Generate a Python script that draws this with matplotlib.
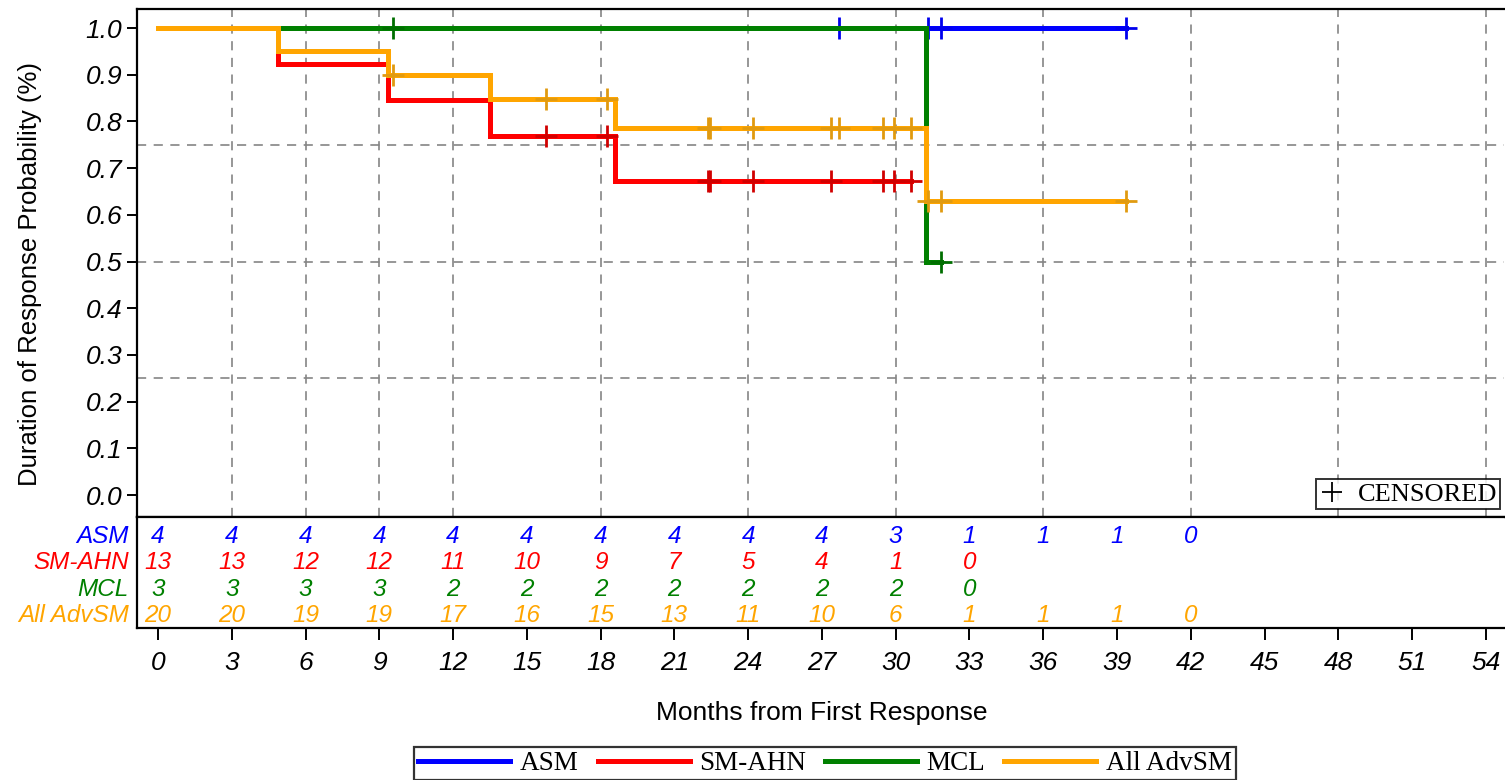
import numpy as np
import matplotlib
matplotlib.use("Agg")
import matplotlib.pyplot as plt
from matplotlib.lines import Line2D

# ---------------- data ----------------
groups = ["ASM", "SM-AHN", "MCL", "All AdvSM"]
colors = ["#0000FF", "#FF0000", "#008000", "#FFA500"]
censor_colors = ["#0000EE", "#D00000", "#006E00", "#E09A10"]

# Kaplan-Meier step functions: event times and survival after each event
asm_event_t = []
asm_event_s = []
asm_end = 39.37
asm_censor = [27.7, 31.3, 31.83, 39.37]

smahn_event_t = [4.9, 9.35, 13.5, 18.6]
smahn_event_s = [0.923, 0.846, 0.769, 0.673]
smahn_end = 30.63
smahn_censor = [15.77, 18.26, 22.35, 22.45, 24.2, 27.35, 29.48, 29.95, 30.63]

mcl_event_t = [31.24]
mcl_event_s = [0.5]
mcl_end = 31.83
mcl_censor = [9.57, 31.83]

all_event_t = [4.9, 9.35, 13.5, 18.6, 31.24]
all_event_s = [0.95, 0.90, 0.847, 0.786, 0.629]
all_end = 39.37
all_censor = [9.57, 15.77, 18.26, 22.35, 22.45, 24.2, 27.35, 27.7, 29.48,
              29.95, 30.63, 31.3, 31.83, 39.37]

# number at risk
risk_times = [0, 3, 6, 9, 12, 15, 18, 21, 24, 27, 30, 33, 36, 39, 42]
asm_risk = [4, 4, 4, 4, 4, 4, 4, 4, 4, 4, 3, 1, 1, 1, 0]
smahn_risk = [13, 13, 12, 12, 11, 10, 9, 7, 5, 4, 1, 0]
mcl_risk = [3, 3, 3, 3, 2, 2, 2, 2, 2, 2, 2, 0]
all_risk = [20, 20, 19, 19, 17, 16, 15, 13, 11, 10, 6, 1, 1, 1, 0]

x_ticks = list(range(0, 55, 3))
y_ticks = [0.0, 0.1, 0.2, 0.3, 0.4, 0.5, 0.6, 0.7, 0.8, 0.9, 1.0]
grid_x = [3, 6, 9, 12, 18, 24, 30, 36, 42, 48, 54]
grid_y = [0.25, 0.5, 0.75]

series = [
    (asm_event_t, asm_event_s, asm_end, asm_censor, asm_risk),
    (smahn_event_t, smahn_event_s, smahn_end, smahn_censor, smahn_risk),
    (mcl_event_t, mcl_event_s, mcl_end, mcl_censor, mcl_risk),
    (all_event_t, all_event_s, all_end, all_censor, all_risk),
]

# ---------------- layout ----------------
W, H = 1505, 780
SANS = ["Liberation Sans", "DejaVu Sans"]
SERIF = ["Liberation Serif", "DejaVu Serif"]
plt.rcParams["font.family"] = SANS

fig = plt.figure(figsize=(W / 100, H / 100), dpi=100)
L, R = 137, 1504
ax = fig.add_axes([L / W, 1 - 517 / H, (R - L) / W, (517 - 9) / H])
axr = fig.add_axes([L / W, 1 - 628 / H, (R - L) / W, (628 - 517) / H])

xlim = (-0.854, 54.74)
ax.set_xlim(*xlim)
ax.set_ylim(-0.0471, 1.0407)
axr.set_xlim(*xlim)
axr.set_ylim(0, 1)

# grid (reference) lines
for gx in grid_x:
    ax.axvline(gx, color="#858585", lw=1.2, ls=(0, (5.5, 4.5)), zorder=0)
for gy in grid_y:
    ax.axhline(gy, color="#858585", lw=1.2, ls=(0, (5.5, 4.5)), zorder=0)

# curves
for i, (et, es, end, cens, _) in enumerate(series):
    xs = [0] + list(et) + [end]
    ys = [1.0] + list(es) + [es[-1] if es else 1.0]
    ax.step(xs, ys, where="post", color=colors[i], lw=3.6, zorder=2 + i,
            solid_joinstyle="miter")
    levels = np.array([1.0] + list(es))
    idx = np.searchsorted(np.array(et, dtype=float), np.array(cens), side="right")
    ax.plot(cens, levels[idx], ls="none", marker="+", ms=16, mew=2.0,
            color=censor_colors[i], zorder=2 + i)

# main axes styling
ax.set_yticks(y_ticks)
ax.set_yticklabels([f"{v:.1f}" for v in y_ticks], fontsize=19, style="italic")
ax.tick_params(axis="y", direction="out", length=7.5, width=1.4, pad=3)
ax.tick_params(axis="x", bottom=False, labelbottom=False)
for s in ["left", "top", "bottom"]:
    ax.spines[s].set_linewidth(1.6)
ax.spines["right"].set_visible(False)

# censored legend
cl = ax.legend([Line2D([], [], marker="+", color="k", ls="none", ms=15, mew=1.3)],
               ["CENSORED"], loc="lower right",
               bbox_to_anchor=((1500 - L) / (R - L), (517 - 509) / 508),
               borderaxespad=0, frameon=True, fancybox=False, edgecolor="black",
               prop={"family": SERIF, "size": 19}, handlelength=1.0,
               handletextpad=0.45, borderpad=0.12)
cl.get_frame().set_linewidth(1.4)
cl.set_zorder(10)

# at-risk table
row_y = [0.82, 0.586, 0.351, 0.117]
for i, (_, _, _, _, risk) in enumerate(series):
    axr.text((129 - L) / (R - L), row_y[i], groups[i], transform=axr.transAxes,
             ha="right", va="center", color=colors[i], fontsize=17.5, style="italic")
    for t, n in zip(risk_times, risk):
        axr.text(t, row_y[i], str(n), ha="center", va="center",
                 color=colors[i], fontsize=17.5, style="italic")
axr.set_yticks([])
axr.set_xticks(x_ticks)
axr.set_xticklabels([str(v) for v in x_ticks], fontsize=19, style="italic")
axr.tick_params(axis="x", direction="out", length=8.5, width=1.4, pad=8)
for s in ["left", "top", "bottom"]:
    axr.spines[s].set_linewidth(1.6)
axr.spines["right"].set_visible(False)

# axis labels
fig.text(30 / W, 1 - 274 / H, "Duration of Response Probability (%)", rotation=90,
         ha="center", va="center", fontsize=18.5)
fig.text(822 / W, 1 - 713 / H, "Months from First Response", ha="center",
         va="center", fontsize=19)

# group legend
handles = [Line2D([], [], color=c, lw=3.6) for c in colors]
lg = fig.legend(handles, groups, loc="upper center", ncol=4,
                bbox_to_anchor=(825 / W, 1 - 747 / H), frameon=True,
                fancybox=False, edgecolor="black",
                prop={"family": SERIF, "size": 19.5}, handlelength=3.4,
                handletextpad=0.35, columnspacing=0.7, borderpad=0.15,
                borderaxespad=0)
lg.get_frame().set_linewidth(1.6)

fig.savefig("out.png", dpi=100)
